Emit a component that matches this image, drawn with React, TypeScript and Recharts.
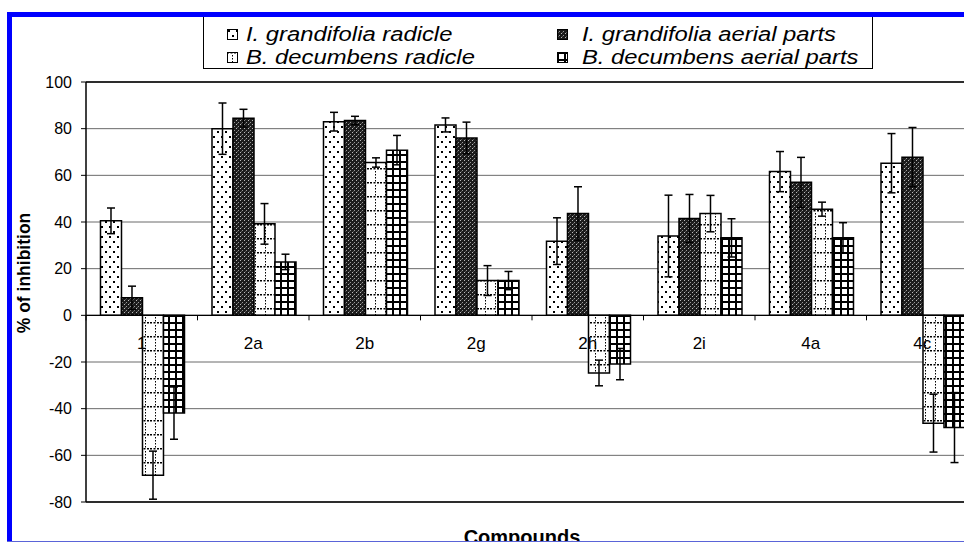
import React from "react";
import { Bar, BarChart, CartesianGrid, ErrorBar, Label, ReferenceLine, XAxis, YAxis } from "recharts";

const categories = ["1", "2a", "2b", "2g", "2h", "2i", "4a", "4c"];
const seriesNames = [
  "I. grandifolia radicle",
  "I. grandifolia aerial parts",
  "B. decumbens radicle",
  "B. decumbens aerial parts",
];
const igRadicle = [40.5, 80, 83, 81.6, 31.8, 34, 61.6, 65.2];
const igRadicleErr = [5.5, 11, 4, 3, 10, 17.5, 8.6, 12.7];
const igAerial = [7.5, 84.5, 83.5, 76, 43.6, 41.5, 57, 67.8];
const igAerialErr = [5, 3.8, 1.8, 6.8, 11.5, 10.3, 10.7, 12.7];
const bdRadicle = [-68.5, 39.2, 65.5, 14.9, -24.7, 43.6, 45.5, -46.2];
const bdRadicleErr = [10.3, 8.7, 2, 6.4, 5.5, 7.8, 3, 12.4];
const bdAerial = [-41.9, 22.9, 70.8, 14.9, -20.9, 33.2, 33.2, -48.1];
const bdAerialErr = [11.2, 3.3, 6.3, 3.9, 6.7, 8.2, 6.5, 15];
const yTicks = [-80, -60, -40, -20, 0, 20, 40, 60, 80, 100];

const patternIds = ["pIgR", "pIgA", "pBdR", "pBdA"];

const data = categories.map((c, i) => ({
  name: c,
  igR: igRadicle[i],
  igRe: igRadicleErr[i],
  igA: igAerial[i],
  igAe: igAerialErr[i],
  bdR: bdRadicle[i],
  bdRe: bdRadicleErr[i],
  bdA: bdAerial[i],
  bdAe: bdAerialErr[i],
}));

const FONT = "'Liberation Sans', Arial, Helvetica, sans-serif";
const CHART_W = 990;
const CHART_H = 544;
const MARGIN = { top: 82, right: 12, bottom: 0, left: 0 };
const Y_AXIS_W = 86;
const X_AXIS_H = 42;
const PLOT_W = CHART_W - MARGIN.right - Y_AXIS_W;
const PLOT_H = CHART_H - MARGIN.top - X_AXIS_H;

function Patterns() {
  return (
    <svg width={0} height={0} style={{ position: "absolute" }}>
      <defs>
        <pattern id="pIgR" width={8} height={10} patternUnits="userSpaceOnUse">
          <rect width={8} height={10} fill="#fff" />
          <rect x={1} y={1} width={2} height={2} fill="#000" />
          <rect x={5} y={6} width={2} height={2} fill="#000" />
        </pattern>
        <pattern id="pIgA" width={4} height={4} patternUnits="userSpaceOnUse">
          <rect width={4} height={4} fill="#1c1c1c" />
          <rect x={0} y={0} width={1} height={1} fill="#bbb" />
          <rect x={2} y={2} width={1} height={1} fill="#999" />
          <rect x={1} y={3} width={1} height={1} fill="#555" />
        </pattern>
        <pattern id="pBdR" width={10} height={14} patternUnits="userSpaceOnUse">
          <rect width={10} height={14} fill="#fff" />
          <rect x={0} y={0} width={2} height={1.5} fill="#000" />
          <rect x={3.5} y={0} width={2} height={1.5} fill="#000" />
          <rect x={7} y={0} width={2} height={1.5} fill="#000" />
          <rect x={5} y={3} width={1} height={1.5} fill="#000" />
          <rect x={5} y={6} width={1} height={1.5} fill="#000" />
          <rect x={5} y={9} width={1} height={1.5} fill="#000" />
          <rect x={5} y={12} width={1} height={1.5} fill="#000" />
        </pattern>
        <pattern id="pBdA" width={7} height={7} patternUnits="userSpaceOnUse">
          <rect width={7} height={7} fill="#fff" />
          <rect x={0} y={0} width={7} height={2} fill="#000" />
          <rect x={0} y={0} width={2} height={7} fill="#000" />
        </pattern>
      </defs>
    </svg>
  );
}

function CategoryTick(props: any) {
  const { x, y, payload } = props;
  const zeroY = y - (PLOT_H * (0 - yTicks[0])) / (yTicks[yTicks.length - 1] - yTicks[0]);
  const band = PLOT_W / categories.length;
  return (
    <g>
      <line x1={x - band / 2} x2={x - band / 2} y1={zeroY} y2={zeroY + 5} stroke="#000" strokeWidth={1} />
      <text x={x} y={zeroY + 34} textAnchor="middle" fontFamily={FONT} fontSize={17} fill="#000">
        {payload.value}
      </text>
    </g>
  );
}

// legend box sits in the inner (clipped) frame, so offsets are relative to (12, 17)
function Legend() {
  return (
    <div
      style={{
        position: "absolute",
        left: 191,
        top: 0,
        width: 668,
        height: 51,
        border: "1px solid #000",
        borderTop: "none",
        background: "#fff",
        fontFamily: FONT,
        fontStyle: "italic",
        fontSize: 20,
        color: "#000",
      }}
    >
      {seriesNames.map((n, i) => (
        <div
          key={n}
          style={{
            position: "absolute",
            left: i % 2 === 0 ? 23 : 353,
            top: i < 2 ? 5 : 28,
            height: 24,
            display: "flex",
            alignItems: "center",
            whiteSpace: "nowrap",
          }}
        >
          <svg width={11} height={11} style={{ marginRight: i % 2 === 0 ? 8 : 14 }}>
            <rect x={0.5} y={0.5} width={10} height={10} fill={`url(#${patternIds[i]})`} stroke="#000" />
          </svg>
          <span style={{ display: "inline-block", transform: "scaleX(1.19)", transformOrigin: "left center" }}>{n}</span>
        </div>
      ))}
    </div>
  );
}

export default function App() {
  return (
    <div style={{ position: "absolute", left: 0, top: 0, width: 964, height: 544, overflow: "hidden", background: "#fff" }}>
      <Patterns />
      <div style={{ position: "absolute", left: 12, top: 17, width: 952, height: 524, overflow: "hidden" }}>
        <div style={{ position: "absolute", left: -12, top: -17 }}>
          <BarChart
            width={CHART_W}
            height={CHART_H}
            data={data}
            margin={MARGIN}
            barCategoryGap="13%"
            barGap={0}
          >
            <CartesianGrid vertical={false} stroke="#6a6a6a" strokeWidth={1} />
            <XAxis
              dataKey="name"
              height={X_AXIS_H}
              axisLine={false}
              tickLine={false}
              tickSize={0}
              tickMargin={0}
              interval={0}
              tick={<CategoryTick />}
            >
              <Label
                content={() => (
                  <text x={522} y={544} textAnchor="middle" fontFamily={FONT} fontWeight="bold" fontSize={20} fill="#000">
                    Compounds
                  </text>
                )}
              />
            </XAxis>
            <YAxis
              width={Y_AXIS_W}
              domain={[yTicks[0], yTicks[yTicks.length - 1]]}
              ticks={yTicks}
              interval={0}
              axisLine={{ stroke: "#000", strokeWidth: 1.5 }}
              tickLine={{ stroke: "#000" }}
              tickSize={5}
              tickMargin={9}
              tick={{ fontFamily: FONT, fontSize: 16, fill: "#000" }}
            >
              <Label
                content={() => (
                  <text
                    x={30}
                    y={273}
                    transform="rotate(-90 30 273)"
                    textAnchor="middle"
                    fontFamily={FONT}
                    fontWeight="bold"
                    fontSize={17.5}
                    fill="#000"
                  >
                    % of inhibition
                  </text>
                )}
              />
            </YAxis>
            <ReferenceLine y={yTicks[yTicks.length - 1]} stroke="#000" strokeWidth={1.5} />
            <ReferenceLine y={yTicks[0]} stroke="#000" strokeWidth={1.5} />
            <ReferenceLine y={0} stroke="#000" strokeWidth={1.2} />
            <Bar dataKey="igR" fill="url(#pIgR)" stroke="#000" strokeWidth={1.5} isAnimationActive={false}>
              <ErrorBar dataKey="igRe" width={4} stroke="#000" strokeWidth={1.5} />
            </Bar>
            <Bar dataKey="igA" fill="url(#pIgA)" stroke="#000" strokeWidth={1.5} isAnimationActive={false}>
              <ErrorBar dataKey="igAe" width={4} stroke="#000" strokeWidth={1.5} />
            </Bar>
            <Bar dataKey="bdR" fill="url(#pBdR)" stroke="#000" strokeWidth={1.5} isAnimationActive={false}>
              <ErrorBar dataKey="bdRe" width={4} stroke="#000" strokeWidth={1.5} />
            </Bar>
            <Bar dataKey="bdA" fill="url(#pBdA)" stroke="#000" strokeWidth={1.5} isAnimationActive={false}>
              <ErrorBar dataKey="bdAe" width={4} stroke="#000" strokeWidth={1.5} />
            </Bar>
          </BarChart>
        </div>
        <Legend />
      </div>
      {/* blue frame */}
      <div style={{ position: "absolute", left: 7, top: 12, width: 957, height: 5, background: "#0000ff" }} />
      <div style={{ position: "absolute", left: 7, top: 12, width: 5, height: 530, background: "#0000ff" }} />
      <div style={{ position: "absolute", left: 7, top: 541, width: 957, height: 1, background: "#5a64d8" }} />
    </div>
  );
}
